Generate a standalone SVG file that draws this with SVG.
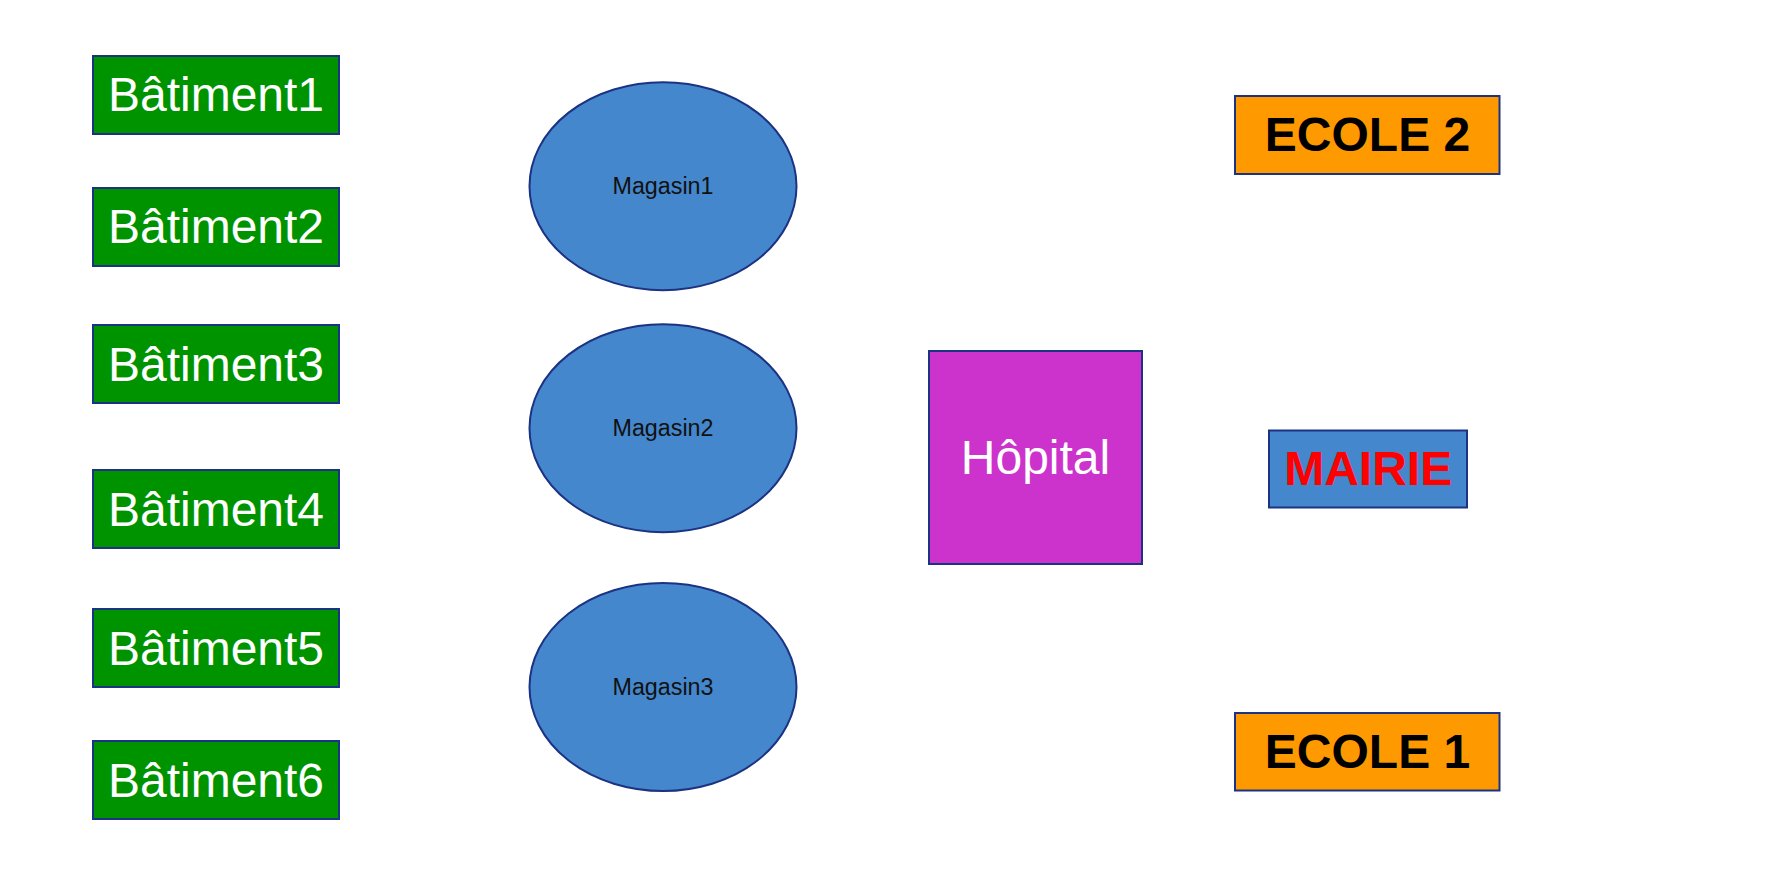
<svg xmlns="http://www.w3.org/2000/svg" width="1790" height="871" viewBox="0 0 1790 871">
<style>
.bat{fill:#009300;stroke:#1c3282;stroke-width:2}
.mag{fill:#4487cc;stroke:#1c3282;stroke-width:2}
.hop{fill:#cc33cc;stroke:#1c3282;stroke-width:2}
.eco{fill:#ff9900;stroke:#1c3282;stroke-width:2}
.mai{fill:#4487cc;stroke:#1c3282;stroke-width:2}
text{font-family:"Liberation Sans",Arial,sans-serif;text-anchor:middle}
.tb{fill:#ffffff;font-size:48px}
.tm{fill:#111111;font-size:23.3px}
.te{fill:#000000;font-size:48px;font-weight:bold}
.tr{fill:#ff0000;font-size:48px;font-weight:bold}
</style>
<rect width="1790" height="871" fill="#ffffff"/>
<g id="connectors"></g>
<g id="batiment1"><rect class="bat" x="93" y="56" width="246" height="78"/><text class="tb" x="216" y="111">Bâtiment1</text></g>
<g id="batiment2"><rect class="bat" x="93" y="188" width="246" height="78"/><text class="tb" x="216" y="243">Bâtiment2</text></g>
<g id="batiment3"><rect class="bat" x="93" y="325" width="246" height="78"/><text class="tb" x="216" y="380.5">Bâtiment3</text></g>
<g id="batiment4"><rect class="bat" x="93" y="470" width="246" height="78"/><text class="tb" x="216" y="525.5">Bâtiment4</text></g>
<g id="batiment5"><rect class="bat" x="93" y="609" width="246" height="78"/><text class="tb" x="216" y="664.5">Bâtiment5</text></g>
<g id="batiment6"><rect class="bat" x="93" y="741" width="246" height="78"/><text class="tb" x="216" y="796.5">Bâtiment6</text></g>
<g id="magasin1"><ellipse class="mag" cx="663" cy="186.2" rx="133.5" ry="104"/><text class="tm" x="663" y="194">Magasin1</text></g>
<g id="magasin2"><ellipse class="mag" cx="663" cy="428.2" rx="133.5" ry="104"/><text class="tm" x="663" y="436">Magasin2</text></g>
<g id="magasin3"><ellipse class="mag" cx="663" cy="687" rx="133.5" ry="104"/><text class="tm" x="663" y="695">Magasin3</text></g>
<g id="hopital"><rect class="hop" x="929" y="351" width="213" height="213"/><text class="tb" x="1035.5" y="473.5">Hôpital</text></g>
<g id="ecole2"><rect class="eco" x="1235" y="96" width="264.5" height="78"/><text class="te" x="1367.5" y="151.3">ECOLE 2</text></g>
<g id="mairie"><rect class="mai" x="1269" y="430.5" width="198" height="77"/><text class="tr" x="1368.2" y="484.7">MAIRIE</text></g>
<g id="ecole1"><rect class="eco" x="1235" y="713" width="264.5" height="77.5"/><text class="te" x="1367.5" y="767.7">ECOLE 1</text></g>
</svg>
